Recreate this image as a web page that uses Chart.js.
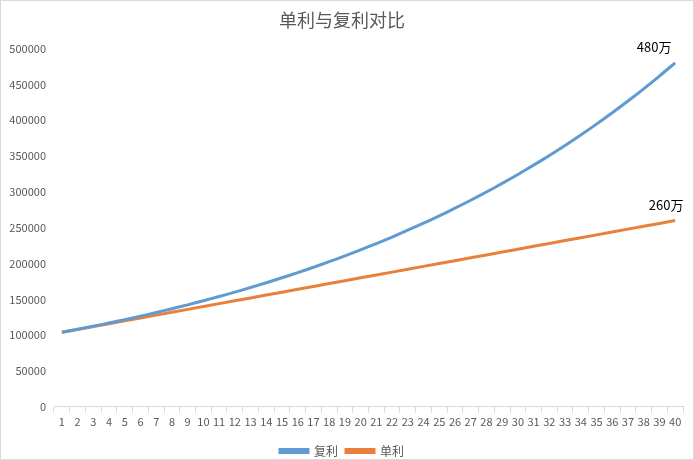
<!DOCTYPE html>
<html>
<head>
<meta charset="utf-8">
<script src="https://cdn.jsdelivr.net/npm/chart.js@4/dist/chart.umd.min.js"></script>
<style>
    html, body { margin: 0; padding: 0; background: #fff; }
    #wrap { width: 694px; height: 460px; box-sizing: border-box; border: 1px solid #d9d9d9; }
</style>
</head>
<body>
<div id="wrap"><canvas id="rateChart"></canvas></div>
<script>
// years 1..40
const years = ['1', '2', '3', '4', '5', '6', '7', '8', '9', '10',
    '11', '12', '13', '14', '15', '16', '17', '18', '19', '20',
    '21', '22', '23', '24', '25', '26', '27', '28', '29', '30',
    '31', '32', '33', '34', '35', '36', '37', '38', '39', '40'];

// 复利
const compound = [104000, 108160, 112486, 116986, 121665, 126532, 131593, 136857, 142331, 148024,
    153945, 160103, 166507, 173168, 180094, 187298, 194790, 202582, 210685, 219112,
    227877, 236992, 246472, 256330, 266584, 277247, 288337, 299870, 311865, 324340,
    337313, 350806, 364838, 379432, 394609, 410393, 426809, 443881, 461637, 480102];

// 单利
const simple = [104000, 108000, 112000, 116000, 120000, 124000, 128000, 132000, 136000, 140000,
    144000, 148000, 152000, 156000, 160000, 164000, 168000, 172000, 176000, 180000,
    184000, 188000, 192000, 196000, 200000, 204000, 208000, 212000, 216000, 220000,
    224000, 228000, 232000, 236000, 240000, 244000, 248000, 252000, 256000, 260000];

const endLabels = ['480万', '260万'];

const font = '"Noto Sans CJK SC", "Open Sans", sans-serif';

// end-of-line value labels
const endLabelPlugin = {
    id: 'endLabel',
    afterDatasetsDraw(chart) {
        const ctx = chart.ctx;
        const offsets = [[-21, -16], [-9, -15]];
        ctx.save();
        ctx.font = '13px ' + font;
        ctx.fillStyle = '#000';
        ctx.textAlign = 'center';
        ctx.textBaseline = 'middle';
        chart.data.datasets.forEach((ds, i) => {
            const pts = chart.getDatasetMeta(i).data;
            const p = pts[pts.length - 1];
            ctx.fillText(endLabels[i], p.x + offsets[i][0], p.y + offsets[i][1]);
        });
        ctx.restore();
    }
};

const rateChart = new Chart(document.getElementById('rateChart'), {
    type: 'line',
    data: {
        labels: years,
        datasets: [{
            label: '复利',
            data: compound,
            borderColor: '#5f9bd0',
            backgroundColor: '#5f9bd0',
            borderWidth: 3,
            pointRadius: 0,
            tension: 0.3
        }, {
            label: '单利',
            data: simple,
            borderColor: '#e9803a',
            backgroundColor: '#e9803a',
            borderWidth: 3,
            pointRadius: 0,
            tension: 0
        }]
    },
    options: {
        responsive: true,
        maintainAspectRatio: false,
        animation: false,
        layout: {
            padding: { left: 0, right: 10, top: 8, bottom: -8 }
        },
        plugins: {
            title: {
                display: true,
                text: '单利与复利对比',
                color: '#595959',
                font: { family: font, size: 18, weight: 'normal' },
                padding: { top: 0, bottom: 18 }
            },
            legend: {
                position: 'bottom',
                labels: {
                    boxWidth: 28,
                    boxHeight: 3,
                    color: '#595959',
                    font: { family: font, size: 12 },
                    padding: 8
                }
            },
            tooltip: { enabled: false }
        },
        scales: {
            x: {
                offset: true,
                afterFit(scale) { scale.height += 7; },
                grid: {
                    offset: true,
                    drawOnChartArea: false,
                    drawTicks: true,
                    tickLength: 6,
                    color: '#d9d9d9'
                },
                border: { color: '#d9d9d9' },
                ticks: {
                    autoSkip: false,
                    maxRotation: 0,
                    color: '#595959',
                    font: { family: font, size: 11 },
                    padding: 2
                }
            },
            y: {
                min: 0,
                max: 500000,
                afterFit(scale) { scale.width = 53; },
                grid: { display: false, drawTicks: false },
                border: { display: false },
                ticks: {
                    stepSize: 50000,
                    color: '#595959',
                    font: { family: font, size: 11 },
                    padding: 8,
                    callback: (v) => String(v)
                }
            }
        }
    },
    plugins: [endLabelPlugin]
});
</script>
</body>
</html>
